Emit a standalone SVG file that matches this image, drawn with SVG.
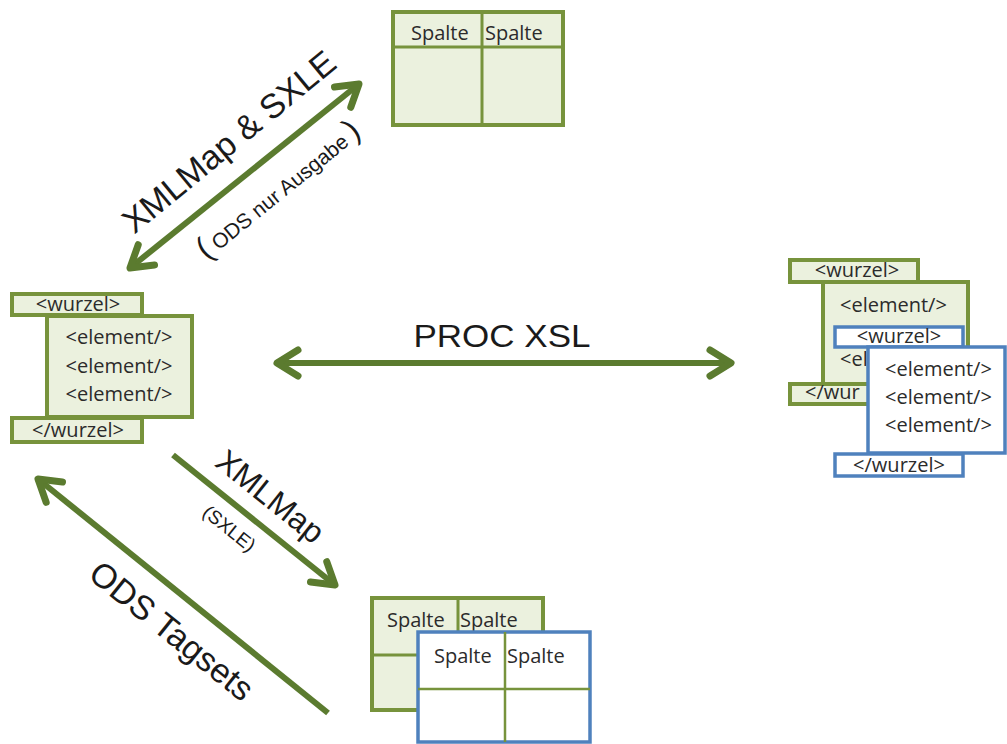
<svg xmlns="http://www.w3.org/2000/svg" width="1007" height="744" viewBox="0 0 1007 744">
<defs>
<marker id="head" markerUnits="userSpaceOnUse" markerWidth="40" markerHeight="40" viewBox="-30 -20 40 40" refX="0" refY="0" orient="auto-start-reverse" overflow="visible">
<path d="M -21 -13 L 0 0 L -21 13" fill="none" stroke="#5b7b2f" stroke-width="7" stroke-linecap="round" stroke-linejoin="round"/>
</marker>
</defs>
<style>
.g{fill:#ebf1de;stroke:#77933c;stroke-width:4}
.b{fill:#ffffff;stroke:#4f81bd;stroke-width:3.5}
.gl{stroke:#77933c;stroke-width:3;fill:none}
.bl{stroke:#77933c;stroke-width:2.5;fill:none}
.t{font-family:"Open Sans","DejaVu Sans",sans-serif;font-size:20px;fill:#2b2b2b}
.c{text-anchor:middle}
.lab{font-family:"Liberation Sans",Arial,sans-serif;fill:#1a1a1a}
.arr{stroke:#5b7b2f;stroke-width:6;fill:none}
</style>
<rect width="1007" height="744" fill="#ffffff"/>

<g id="xml-left">
<rect class="g" x="12" y="294" width="130" height="21"/>
<rect class="g" x="47" y="316" width="145" height="101"/>
<rect class="g" x="12" y="418" width="130" height="24"/>
<text class="t c" x="78" y="311">&lt;wurzel&gt;</text>
<text class="t c" x="119" y="344">&lt;element/&gt;</text>
<text class="t c" x="119" y="373">&lt;element/&gt;</text>
<text class="t c" x="119" y="401">&lt;element/&gt;</text>
<text class="t c" x="78" y="437">&lt;/wurzel&gt;</text>
</g>

<g id="table-top">
<rect class="g" x="393" y="12" width="170" height="113"/>
<line class="gl" x1="393" y1="47" x2="563" y2="47"/>
<line class="gl" x1="482" y1="12" x2="482" y2="125"/>
<text class="t" x="411" y="40">Spalte</text>
<text class="t" x="485" y="40">Spalte</text>
</g>

<g id="xml-right">
<rect class="g" x="790" y="260" width="128" height="22"/>
<rect class="g" x="823" y="282" width="145" height="102"/>
<rect class="g" x="790" y="384" width="128" height="20"/>
<text class="t c" x="857" y="277">&lt;wurzel&gt;</text>
<text class="t" x="840" y="312">&lt;element/&gt;</text>
<text class="t" x="840" y="366">&lt;el</text>
<text class="t" x="805" y="399">&lt;/wur</text>
<rect class="b" x="835" y="327" width="128" height="20"/>
<text class="t c" x="899" y="343">&lt;wurzel&gt;</text>
<rect class="b" x="868" y="347" width="137" height="106"/>
<text class="t" x="885" y="376">&lt;element/&gt;</text>
<text class="t" x="885" y="404">&lt;element/&gt;</text>
<text class="t" x="885" y="432">&lt;element/&gt;</text>
<rect class="b" x="835" y="454" width="128" height="22"/>
<text class="t c" x="899" y="472">&lt;/wurzel&gt;</text>
</g>

<g id="tables-bottom">
<rect class="g" x="372" y="598" width="171" height="112"/>
<line class="gl" x1="372" y1="655" x2="543" y2="655"/>
<line class="gl" x1="458" y1="598" x2="458" y2="710"/>
<text class="t" x="387" y="627">Spalte</text>
<text class="t" x="460" y="627">Spalte</text>
<rect class="b" x="418" y="632" width="172" height="110"/>
<line class="bl" x1="418" y1="689" x2="590" y2="689"/>
<line class="bl" x1="505" y1="632" x2="505" y2="742"/>
<text class="t" x="434" y="663">Spalte</text>
<text class="t" x="507" y="663">Spalte</text>
</g>

<g id="connectors">
<line class="arr" x1="130" y1="268" x2="359" y2="84" marker-start="url(#head)" marker-end="url(#head)"/>
<line class="arr" x1="277" y1="363" x2="731" y2="363" marker-start="url(#head)" marker-end="url(#head)"/>
<line class="arr" x1="173" y1="455" x2="335" y2="585" marker-end="url(#head)"/>
<line class="arr" x1="328" y1="713" x2="38" y2="479" marker-end="url(#head)"/>
</g>

<g id="labels">
<text class="lab" x="502" y="347" font-size="31" text-anchor="middle" textLength="177" lengthAdjust="spacingAndGlyphs">PROC XSL</text>
<text class="lab" transform="translate(230,143) rotate(-39.5)" x="0" y="10" font-size="34" text-anchor="middle">XMLMap &amp; SXLE</text>
<text class="lab" transform="translate(280,192) rotate(-39)" x="0" y="7" text-anchor="middle"><tspan font-size="32">(</tspan><tspan font-size="21" dx="5">ODS nur Ausgabe</tspan><tspan font-size="32" dx="5">)</tspan></text>
<text class="lab" transform="translate(269,498) rotate(38.7)" x="0" y="9" font-size="32" text-anchor="middle">XMLMap</text>
<text class="lab" transform="translate(229,529) rotate(38.7)" x="0" y="6" font-size="19" text-anchor="middle">(SXLE)</text>
<text class="lab" transform="translate(170,633) rotate(38.9)" x="0" y="9" font-size="34" text-anchor="middle">ODS Tagsets</text>
</g>
</svg>
